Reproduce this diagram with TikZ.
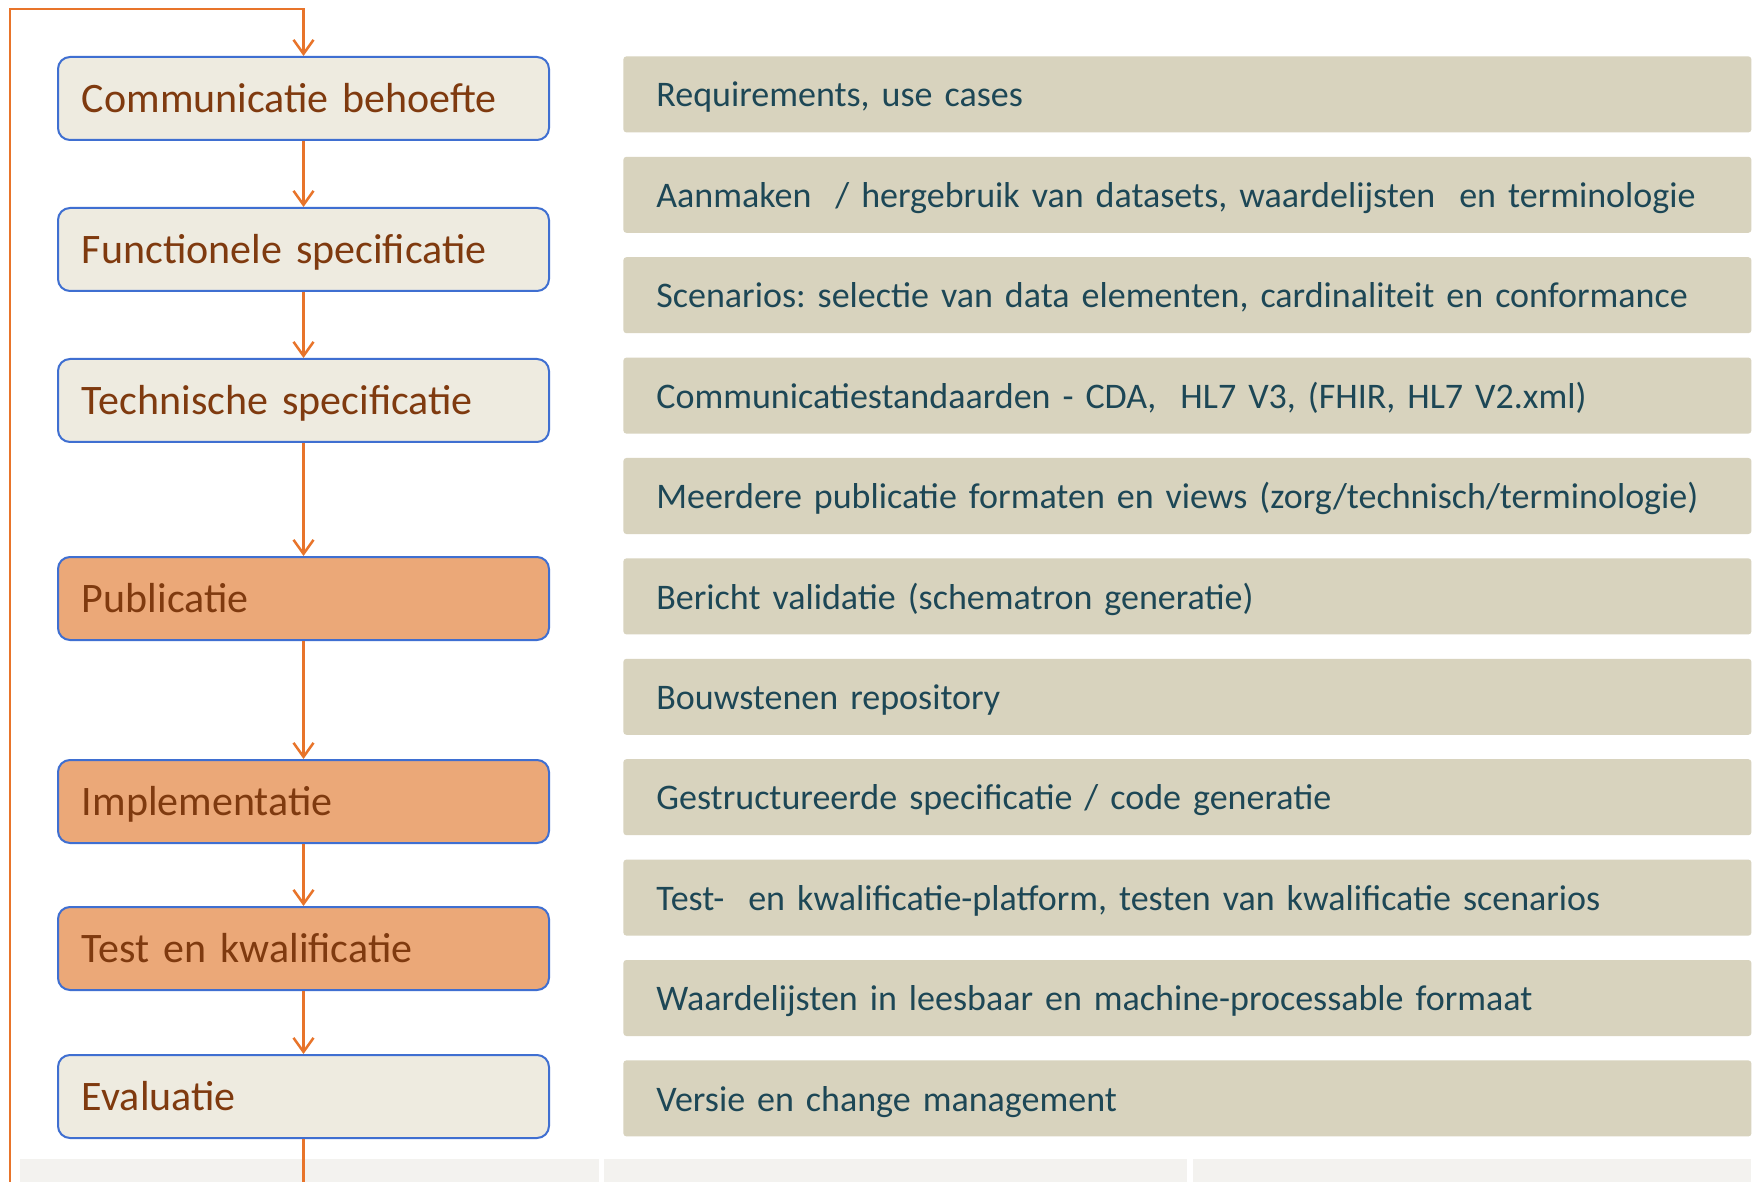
\documentclass[tikz,border=0pt]{standalone}
\usepackage{fontspec}
\setmainfont{Carlito}
\usetikzlibrary{arrows.meta}
\definecolor{floworange}{HTML}{E8742A}
\definecolor{boxblue}{HTML}{3F6FD1}
\definecolor{lightfill}{HTML}{EEEBE0}
\definecolor{orangefill}{HTML}{EBA878}
\definecolor{stepbrown}{HTML}{7F3A0F}
\definecolor{tanfill}{HTML}{D8D3BE}
\definecolor{tealtext}{HTML}{1D4756}
\definecolor{bandgray}{HTML}{F3F2EF}
\frenchspacing
\begin{document}
\begin{tikzpicture}[x=0.5pt,y=-0.5pt,
  phase/.style={draw=boxblue, line width=1pt, rounded corners=6pt, fill=lightfill,
    text=stepbrown, font=\fontsize{21}{25}\selectfont, minimum height=41.5pt,
    text height=15pt, text depth=0.8pt,
    text width=221.5pt, inner xsep=12pt, inner ysep=0pt, align=left, anchor=north west},
  activephase/.style={phase, fill=orangefill},
  itembox/.style={fill=tanfill, rounded corners=1.5pt, text=tealtext,
    font=\fontsize{18}{21}\selectfont, minimum height=38pt, text width=531pt,
    text height=13pt, text depth=0.4pt,
    inner xsep=16.5pt, inner ysep=0pt, align=left, anchor=north west},
  flowline/.style={draw=floworange, line width=1.25pt},
  flow/.style={flowline, -{Straight Barb[length=7pt,width=10pt]}},
  band/.style={fill=bandgray}]
\fill[white] (0,0) rectangle (1758,1182);
\useasboundingbox (0,0) rectangle (1758,1182);
% bottom bands
\fill[band] (20,1159) rectangle (599,1182);
\fill[band] (604,1159) rectangle (1187,1182);
\fill[band] (1193,1159) rectangle (1751,1182);
% left phases
\node[phase] (p1) at (57,56) {Communicatie behoefte};
\node[phase] (p2) at (57,207) {Functionele specificatie};
\node[phase] (p3) at (57,358) {Technische specificatie};
\node[activephase] (p4) at (57,556) {Publicatie};
\node[activephase] (p5) at (57,759) {Implementatie};
\node[activephase] (p6) at (57,906) {Test en kwalificatie};
\node[phase] (p7) at (57,1054) {Evaluatie};
% right items
\node[itembox] (r1) at (623,56) {Requirements, use cases};
\node[itembox] (r2) at (623,156.4) {Aanmaken\ \ / hergebruik van datasets, waardelijsten\ \ en terminologie};
\node[itembox] (r3) at (623,256.8) {Scenarios: selectie van data elementen, cardinaliteit en conformance};
\node[itembox] (r4) at (623,357.2) {Communicatiestandaarden - CDA,\ \ HL7 V3, (FHIR, HL7 V2.xml)};
\node[itembox] (r5) at (623,457.6) {Meerdere publicatie formaten en views (zorg/technisch/terminologie)};
\node[itembox] (r6) at (623,558) {Bericht validatie (schematron generatie)};
\node[itembox] (r7) at (623,658.4) {Bouwstenen repository};
\node[itembox] (r8) at (623,758.8) {Gestructureerde specificatie / code generatie};
\node[itembox] (r9) at (623,859.2) {Test-\ \ en kwalificatie-platform, testen van kwalificatie scenarios};
\node[itembox] (r10) at (623,959.6) {Waardelijsten in leesbaar en machine-processable formaat};
\node[itembox] (r11) at (623,1060) {Versie en change management};
% connectors
\draw[flow] (p1.south) -- (p2.north);
\draw[flow] (p2.south) -- (p3.north);
\draw[flow] (p3.south) -- (p4.north);
\draw[flow] (p4.south) -- (p5.north);
\draw[flow] (p5.south) -- (p6.north);
\draw[flow] (p6.south) -- (p7.north);
\coordinate (exitbottom) at (301,1182);
\coordinate (loopbottom) at (10,1182);
\coordinate (looptop) at (10,9);
\draw[flowline] (p7.south) -- (p7.south |- exitbottom);
\draw[flow] (loopbottom) -- (looptop) -| (p1.north);
\end{tikzpicture}
\end{document}
